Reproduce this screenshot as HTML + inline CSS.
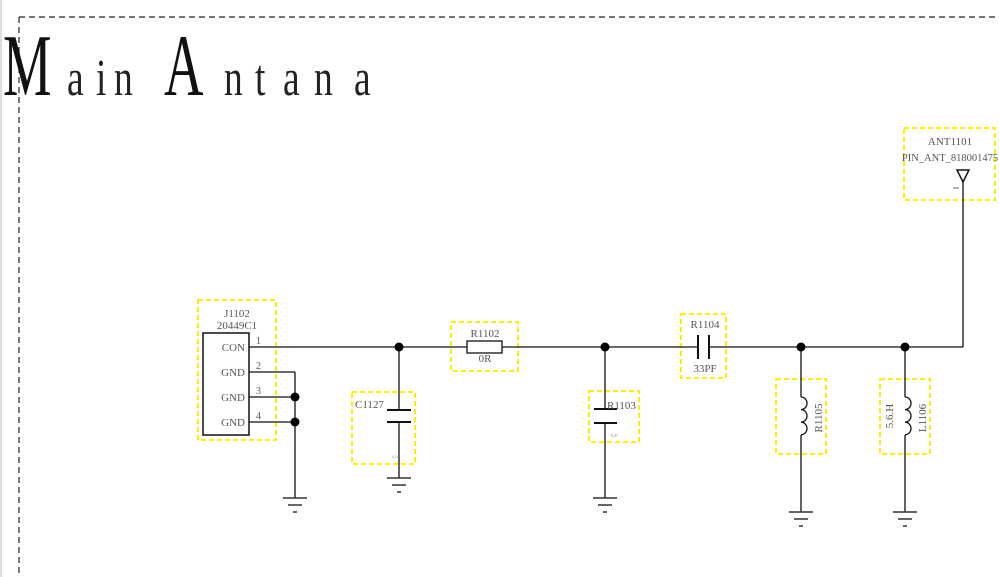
<!DOCTYPE html>
<html><head><meta charset="utf-8"><style>
html,body{margin:0;padding:0;background:#fff;}
body{width:999px;height:577px;position:relative;overflow:hidden;}
.t{position:absolute;font-family:"Liberation Serif",serif;color:#111;line-height:1;transform-origin:0 0;}
.U{font-size:88px;top:23px;transform:scaleX(0.62);}
.l{font-size:52px;top:53px;transform:scaleX(0.72);color:#222;}
svg{position:absolute;left:0;top:0;}
</style></head><body>
<svg width="999" height="577" viewBox="0 0 999 577" font-family="Liberation Sans, sans-serif">
<line x1="1" y1="0" x2="1" y2="577" stroke="#ddd" stroke-width="2"/>
<line x1="19" y1="17" x2="999" y2="17" stroke="#222" stroke-width="1.2" stroke-dasharray="6,4"/>
<line x1="19" y1="17" x2="19" y2="577" stroke="#222" stroke-width="1.2" stroke-dasharray="6,4"/>
<g fill="none" stroke="#ffee00" stroke-width="2" stroke-dasharray="5,3">
<rect x="198" y="300" width="78" height="140"/>
<rect x="352" y="392" width="63" height="72"/>
<rect x="451" y="322" width="67" height="49"/>
<rect x="589" y="391" width="50" height="51"/>
<rect x="681" y="314" width="45" height="64"/>
<rect x="776" y="379" width="50" height="75"/>
<rect x="880" y="379" width="50" height="75"/>
<rect x="904" y="128" width="91" height="72"/>
</g>
<g stroke="#111" stroke-width="1.3" fill="none">
<rect x="203" y="333" width="46" height="102" stroke-width="1.5"/>
<line x1="249" y1="347" x2="467" y2="347"/>
<line x1="502" y1="347" x2="698" y2="347"/>
<line x1="709" y1="347" x2="963" y2="347"/>
<line x1="963" y1="347" x2="963" y2="180"/>
<line x1="249" y1="372" x2="295" y2="372"/>
<line x1="249" y1="397" x2="295" y2="397"/>
<line x1="249" y1="422" x2="295" y2="422"/>
<line x1="295" y1="372" x2="295" y2="498"/>
<rect x="467" y="341" width="35" height="12"/>
<line x1="399" y1="347" x2="399" y2="410"/>
<line x1="387" y1="410" x2="411" y2="410" stroke-width="2"/>
<line x1="387" y1="422" x2="411" y2="422" stroke-width="2"/>
<line x1="399" y1="422" x2="399" y2="478"/>
<line x1="605" y1="347" x2="605" y2="409"/>
<line x1="594" y1="409" x2="617" y2="409" stroke-width="2"/>
<line x1="594" y1="423" x2="617" y2="423" stroke-width="2"/>
<line x1="605" y1="423" x2="605" y2="498"/>
<line x1="698" y1="335" x2="698" y2="359" stroke-width="2"/>
<line x1="709" y1="335" x2="709" y2="359" stroke-width="2"/>
<line x1="801" y1="347" x2="801" y2="397"/>
<path d="M801 397 a6 6.3 0 0 1 0 12.6 a6 6.3 0 0 1 0 12.6 a6 6.3 0 0 1 0 12.6"/>
<line x1="801" y1="435" x2="801" y2="512"/>
<line x1="905" y1="347" x2="905" y2="397"/>
<path d="M905 397 a6 6.3 0 0 1 0 12.6 a6 6.3 0 0 1 0 12.6 a6 6.3 0 0 1 0 12.6"/>
<line x1="905" y1="435" x2="905" y2="512"/>
<path d="M957 170 L969 170 L963 182 Z" stroke-width="1.5"/>
<line x1="953" y1="188" x2="959" y2="188" stroke="#666" stroke-width="1"/>
</g>
<g stroke="#333" stroke-width="1.5">
<line x1="283" y1="498" x2="307" y2="498"/><line x1="288" y1="505" x2="302" y2="505"/><line x1="293" y1="512" x2="297" y2="512"/>
<line x1="387" y1="478" x2="411" y2="478"/><line x1="392" y1="485" x2="406" y2="485"/><line x1="397" y1="492" x2="401" y2="492"/>
<line x1="593" y1="498" x2="617" y2="498"/><line x1="598" y1="505" x2="612" y2="505"/><line x1="603" y1="512" x2="607" y2="512"/>
<line x1="789" y1="512" x2="813" y2="512"/><line x1="794" y1="519" x2="808" y2="519"/><line x1="799" y1="526" x2="803" y2="526"/>
<line x1="893" y1="512" x2="917" y2="512"/><line x1="898" y1="519" x2="912" y2="519"/><line x1="903" y1="526" x2="907" y2="526"/>
</g>
<g fill="#000">
<circle cx="295" cy="397" r="4.5"/><circle cx="295" cy="422" r="4.5"/>
<circle cx="399" cy="347" r="4.5"/><circle cx="605" cy="347" r="4.5"/>
<circle cx="801" cy="347" r="4.5"/><circle cx="905" cy="347" r="4.5"/>
</g>
<g font-family="Liberation Serif, serif" font-size="11" fill="#555">
<text x="237" y="317" text-anchor="middle">J1102</text>
<text x="237" y="329" text-anchor="middle">20449C1</text>
<text x="245" y="351" text-anchor="end">CON</text>
<text x="245" y="376" text-anchor="end">GND</text>
<text x="245" y="401" text-anchor="end">GND</text>
<text x="245" y="426" text-anchor="end">GND</text>
<text x="256" y="344" font-size="10">1</text>
<text x="256" y="369" font-size="10">2</text>
<text x="256" y="394" font-size="10">3</text>
<text x="256" y="419" font-size="10">4</text>
<text x="355" y="408">C1127</text>
<text x="485" y="337" text-anchor="middle">R1102</text>
<text x="485" y="362" text-anchor="middle">0R</text>
<text x="607" y="409">R1103</text>
<text x="705" y="328" text-anchor="middle">R1104</text>
<text x="705" y="372" text-anchor="middle">33PF</text>
<text transform="translate(822,418) rotate(-90)" text-anchor="middle">R1105</text>
<text transform="translate(893,416) rotate(-90)" text-anchor="middle">5.6.H</text>
<text transform="translate(926,418) rotate(-90)" text-anchor="middle">L1106</text>
<text x="950" y="145" text-anchor="middle">ANT1101</text>
<text x="950" y="161" text-anchor="middle" font-size="10.5">PIN_ANT_818001475</text>
<text x="611" y="437" font-size="6" fill="#999">s,e</text>
<text x="392" y="458" font-size="5" fill="#999">s,n</text>
</g>
</svg>
<div class="t U" style="left:3px;">M</div>
<div class="t l" style="left:67px;">a</div>
<div class="t l" style="left:96px;">i</div>
<div class="t l" style="left:114px;">n</div>
<div class="t U" style="left:164px;">A</div>
<div class="t l" style="left:224px;">n</div>
<div class="t l" style="left:255px;">t</div>
<div class="t l" style="left:283px;">a</div>
<div class="t l" style="left:314px;">n</div>
<div class="t l" style="left:354px;">a</div>
</body></html>
